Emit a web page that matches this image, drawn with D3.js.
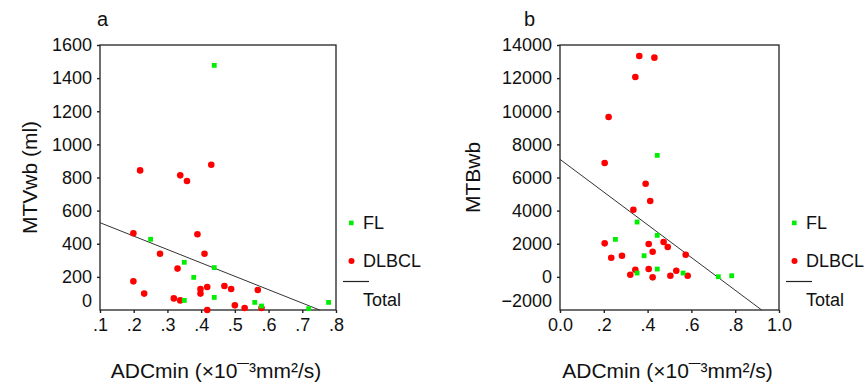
<!DOCTYPE html>
<html>
<head>
<meta charset="utf-8">
<script src="https://cdn.jsdelivr.net/npm/d3@7"></script>
<style>
  body { margin: 0; background: #fff; }
  svg { display: block; font-family: Arial, "Liberation Sans", sans-serif; }
</style>
</head>
<body>
<svg id="chart" width="866" height="384"></svg>
<script>
// Panel a : MTVwb (ml) vs ADCmin
const flA_x = [0.439, 0.250, 0.350, 0.439, 0.378, 0.439, 0.350, 0.559, 0.579, 0.719, 0.778];
const flA_y = [1477, 427, 288, 256, 197, 76, 58, 46, 24, 8, 46];
const dlA_x = [0.219, 0.338, 0.358, 0.430, 0.199, 0.389, 0.278, 0.410, 0.330, 0.199, 0.231, 0.319,
               0.338, 0.398, 0.398, 0.418, 0.469, 0.489, 0.568, 0.500, 0.529, 0.579, 0.418];
const dlA_y = [843, 813, 779, 877, 463, 457, 340, 340, 250, 173, 99, 70,
               58, 127, 99, 139, 145, 127, 121, 28, 12, 12, 0];
const fitA = { intercept: 608, slope: -809 };
const xTicksA = [0.1, 0.2, 0.3, 0.4, 0.5, 0.6, 0.7, 0.8];
const xLabelsA = [".1", ".2", ".3", ".4", ".5", ".6", ".7", ".8"];
const yTicksA = [0, 200, 400, 600, 800, 1000, 1200, 1400, 1600];

// Panel b : MTBwb vs ADCmin
const flB_x = [0.444, 0.352, 0.253, 0.444, 0.384, 0.444, 0.352, 0.562, 0.723, 0.784];
const flB_y = [7337, 3311, 2265, 2507, 1278, 473, 231, 231, 10, 70];
const dlB_x = [0.362, 0.431, 0.344, 0.222, 0.204, 0.391, 0.412, 0.335, 0.204, 0.405, 0.473, 0.492,
               0.423, 0.234, 0.283, 0.574, 0.344, 0.321, 0.405, 0.423, 0.504, 0.531, 0.583];
const dlB_y = [13336, 13235, 12068, 9652, 6874, 5626, 4579, 4056, 2023, 1982, 2103, 1801,
               1519, 1157, 1278, 1339, 433, 130, 473, -30, 70, 372, 70];
const fitB = { intercept: 7096, slope: -9877 };
const xTicksB = [0, 0.2, 0.4, 0.6, 0.8, 1.0];
const xLabelsB = ["0.0", ".2", ".4", ".6", ".8", "1.0"];
const yTicksB = [-2000, 0, 2000, 4000, 6000, 8000, 10000, 12000, 14000];

const legendNames = ["FL", "DLBCL", "Total"];
const xTitle = "ADCmin (×10\u00AF\u00B3mm²/s)";

const svg = d3.select("#chart");
const green = "#00ee00", red = "#ff0000";

function drawPanel(p) {
    const x = d3.scaleLinear().domain(p.xDomain).range([p.left, p.right]);
    const y = d3.scaleLinear().domain(p.yDomain).range([p.bottom, p.top]);
    const g = svg.append("g");

    // axes (ticks outward, labels in the picture's format)
    const yAxis = g.append("g")
        .attr("transform", `translate(${p.left},0)`)
        .call(d3.axisLeft(y).tickValues(p.yTicks).tickSize(3).tickPadding(5).tickFormat(d3.format("d")));
    yAxis.selectAll(".tick text").style("font-size", "18px").attr("fill", "#111");
    // lowest label is pushed up a bit, no tick mark there
    yAxis.selectAll(".tick").filter(d => d === p.yDomain[0]).select("line").remove();
    yAxis.selectAll(".tick").filter(d => d === p.yDomain[0]).select("text").attr("y", -9);

    const xAxis = g.append("g")
        .attr("transform", `translate(0,${p.bottom})`)
        .call(d3.axisBottom(x).tickValues(p.xTicks).tickSize(3).tickPadding(5)
            .tickFormat((d, i) => p.xLabels[i]));
    xAxis.selectAll(".tick text").style("font-size", "18px").attr("fill", "#111");
    g.selectAll(".domain").remove();
    g.selectAll(".tick line").attr("stroke", "#222").attr("stroke-width", 1.4);

    // frame
    g.append("rect")
        .attr("x", p.left).attr("y", p.top)
        .attr("width", p.right - p.left).attr("height", p.bottom - p.top)
        .attr("fill", "none").attr("stroke", "#222").attr("stroke-width", 1.3);

    // regression line (Total), stops at the bottom of the frame
    const xEnd = Math.min(p.xDomain[1], (p.yDomain[0] - p.fit.intercept) / p.fit.slope);
    g.append("line")
        .attr("x1", x(p.xDomain[0])).attr("y1", y(p.fit.intercept + p.fit.slope * p.xDomain[0]))
        .attr("x2", x(xEnd)).attr("y2", y(p.fit.intercept + p.fit.slope * xEnd))
        .attr("stroke", "#333").attr("stroke-width", 1);

    // DLBCL
    g.append("g").selectAll("circle")
        .data(d3.zip(p.dlX, p.dlY))
        .join("circle")
        .attr("cx", d => x(d[0])).attr("cy", d => y(d[1]))
        .attr("r", 3.3).attr("fill", red);

    // FL
    g.append("g").selectAll("rect")
        .data(d3.zip(p.flX, p.flY))
        .join("rect")
        .attr("x", d => x(d[0]) - 2.4).attr("y", d => y(d[1]) - 2.4)
        .attr("width", 4.8).attr("height", 4.8).attr("fill", green);

    // titles
    g.append("text")
        .attr("x", p.labelX).attr("y", 26)
        .style("font-size", "20px").attr("fill", "#111").text(p.letter);
    g.append("text")
        .attr("transform", `translate(${p.yTitleX},${(p.top + p.bottom) / 2}) rotate(-90)`)
        .attr("text-anchor", "middle").attr("dy", "0.35em")
        .style("font-size", "21px").attr("fill", "#111").text(p.yTitle);
    g.append("text")
        .attr("x", (p.left + p.right) / 2 - 2).attr("y", 378)
        .attr("text-anchor", "middle")
        .style("font-size", "21px").attr("fill", "#111").text(xTitle);

    // legend
    const lg = g.append("g").attr("transform", `translate(${p.right},0)`);
    lg.append("rect").attr("x", 13).attr("y", 220.6).attr("width", 4.6).attr("height", 4.6).attr("fill", green);
    lg.append("circle").attr("cx", 15.5).attr("cy", 261).attr("r", 3).attr("fill", red);
    lg.append("line").attr("x1", 7).attr("x2", 33).attr("y1", 281.5).attr("y2", 281.5)
        .attr("stroke", "#222").attr("stroke-width", 1.2);
    lg.selectAll("text.leg")
        .data(legendNames)
        .join("text")
        .attr("class", "leg")
        .attr("x", 27)
        .attr("y", (d, i) => [223, 261, 300][i])
        .attr("dy", "0.36em")
        .style("font-size", "18px").attr("fill", "#111")
        .text(d => d);
}

drawPanel({
    letter: "a", labelX: 97, yTitle: "MTVwb (ml)", yTitleX: 30,
    left: 100, right: 336, top: 45, bottom: 310,
    xDomain: [0.1, 0.8], yDomain: [0, 1600],
    xTicks: xTicksA, xLabels: xLabelsA, yTicks: yTicksA,
    flX: flA_x, flY: flA_y, dlX: dlA_x, dlY: dlA_y, fit: fitA
});

drawPanel({
    letter: "b", labelX: 524, yTitle: "MTBwb", yTitleX: 473,
    left: 560, right: 779, top: 45, bottom: 310,
    xDomain: [0, 1], yDomain: [-2000, 14000],
    xTicks: xTicksB, xLabels: xLabelsB, yTicks: yTicksB,
    flX: flB_x, flY: flB_y, dlX: dlB_x, dlY: dlB_y, fit: fitB
});
</script>
</body>
</html>
